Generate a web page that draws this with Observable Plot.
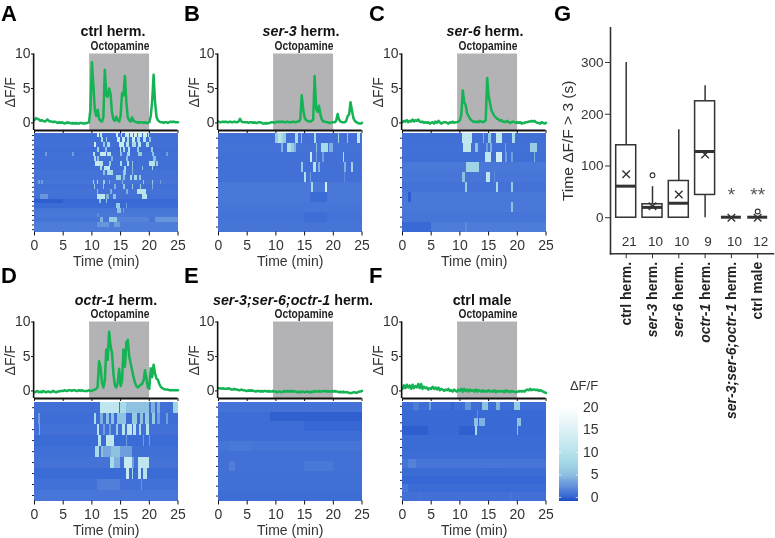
<!DOCTYPE html>
<html><head><meta charset="utf-8">
<script src="https://cdn.jsdelivr.net/npm/d3@7"></script>
<script src="https://cdn.jsdelivr.net/npm/@observablehq/plot@0.6"></script>
<style>
html,body{margin:0;padding:0;background:#fff}
#root{position:relative;width:775px;height:538px;overflow:hidden;font-family:"Liberation Sans",Arial,sans-serif;filter:blur(0.35px)}
#root svg{position:absolute;overflow:visible;background:none}
#root svg.heat g[aria-label="bar"]{filter:blur(.7px)}
.t{position:absolute;white-space:nowrap;color:#111;transform:translate(-50%,-50%)}
.title{font-weight:700;font-size:15.5px;transform:translate(-50%,-50%) scaleX(.92)}
.oct{font-weight:700;font-size:12px;color:#222;transform:translate(-50%,-50%) scaleX(.85)}
.letter{font-weight:700;font-size:22px;color:#000;transform:none}
</style></head><body><div id="root"></div>
<script>
// ---------- data ----------
const colLeft = [0, 184.3, 368.3];
const minutes = [0, 5, 10, 15, 20, 25];
const octBand = [9.6, 20.05];
const traceStep = 0.25;
const heatDomain = [-1, 0, 1, 2.5, 5, 7.5, 10, 15, 20];
const heatRange = ["#1d4cc6", "#3565d3", "#4a78d8", "#6795dc", "#8fc2e0", "#a4d8e6", "#b7e3ec", "#dff2f6", "#ffffff"];

const traceA = [.4,.7,.6,.5,.3,.4,.3,.2,.3,.5, .3,.2,.2,.1,.2,.1,0,.1,0,.1, 0,-.1,0,.1,0,0,-.1,0,-.1,0, -.1,-.1,0,0,-.1,-.1,0,0,.1,2,
 8.8,5.5,2,1,1.9,.6,.3,.2,.8,7.7, 4,3.8,5,4.2,1.5,.5,.3,.9,.4,.2, 1,4.3,4,6.8,3,.8,.4,.2,.8,.3, .2,.1,.1,0,.1,.1,0,.1,0,0,
 .1,1,3.2,7,3,.9,.4,.2,.1,.1, 0,.1,.1,0,.1,.2,.1,.2,.1,.1,.1];
const traceB = [.2,.1,.1,.2,.1,.2,.1,.1,.2,.1, .1,.2,.1,.1,.2,.6,.2,.1,.1,.1, .1,0,.1,.1,0,.1,0,0,.1,.1, 0,-.1,-.1,0,-.1,0,0,.1,.1,0,
 .1,.2,.1,.2,.1,.2,.1,.1,.2,.1, .1,.1,.2,.1,.1,.2,.2,.5,4,2, .8,.4,.3,.2,.2,.3,.5,6.8,2.2,1.6, 2.5,1.2,.5,.2,.2,.1,.1,0,0,.1,
 .1,.1,.3,1.3,.5,.2,.1,.1,.1,.3, 1,1.2,3,1.8,.7,.3,.1,0,-.1,-.1,0];
const traceC = [.1,.3,.2,.4,.1,.3,.2,.5,.2,.4, .3,.5,.2,.1,.2,0,.1,0,.1,-.1, 0,.1,-.1,.2,0,.3,.1,-.1,0,.1, .1,0,-.1,.1,0,.2,0,.1,.1,.2,
 .4,1.2,4.7,3,2.6,1.4,1,.6,.4,.2, .2,.1,.2,.1,.3,.2,.1,.2,.4,6.5, 4,2.8,1.8,1.4,1,.8,.6,.5,.3,.4, .2,.1,.2,.3,.1,0,.1,.2,.1,0,
 .1,0,.1,-.1,0,0,.1,.1,.2,.2, .3,.2,.3,.1,0,0,-.1,.1,0,-.1,0];
const traceD = [-.2,-.1,0,-.2,-.1,-.2,0,-.1,-.2,-.1, -.1,-.2,-.1,0,-.1,-.2,-.1,-.1,0,0, 0,.1,0,0,.1,.1,0,.1,.1,0, 0,.1,0,.1,0,0,0,0,.1,0,
 0,.1,.2,.3,.6,4.3,3.5,1.2,.5,1.5, 6,4.5,8.6,6.5,5.5,2.5,.8,.5,1.2,3.2, .7,1.5,6,3.5,7,7.4,5,4,3,2, 1.2,.7,.5,.7,.9,1,1.5,3,1.8,.5,
 .3,3.3,2,3.8,2.5,1.8,1.6,1,.6,.4, .3,.2,.2,.2,.1,.1,.1,.1,.1,.1,.1];
const traceE = [.4,.4,.3,.4,.3,.3,.3,.4,.3,.2, .2,.3,.2,.2,.1,.1,.2,.1,.1,0, 0,.1,0,.1,0,0,-.1,0,0,-.1, 0,-.1,0,0,-.1,0,-.1,-.1,0,-.1,
 -.1,-.2,-.1,-.1,-.2,-.1,0,-.1,0,-.1, 0,-.1,0,-.1,-.1,-.2,-.1,-.2,-.1,-.1, -.2,-.1,-.1,-.2,-.1,-.2,-.1,0,-.1,-.1, 0,-.1,-.1,0,0,-.1,0,-.1,-.1,0,
 -.1,0,-.1,-.1,-.2,-.1,-.2,-.1,-.2,-.2, -.2,-.3,-.3,-.3,-.2,-.2,-.3,-.2,-.1,-.1,0];
const traceF = [.3,.8,.4,.9,.5,.8,.3,.9,.4,.7, .5,1,.4,1,.3,.6,.4,.5,.2,.4, .3,.6,.3,.5,.2,.5,.1,.3,.2,0, .2,.1,.3,0,.1,-.1,.2,0,-.1,.2,
 0,.3,-.1,.3,0,.2,-.1,.2,0,.1, -.1,.2,-.1,.1,0,-.1,.1,-.1,0,-.1, .1,-.1,0,-.1,.1,-.2,0,-.1,0,-.1, 0,-.2,.1,-.1,0,-.2,0,-.1,-.1,-.2,
 -.1,-.1,0,-.1,0,-.1,.1,.2,.1,.3, .1,.2,.2,.1,.2,0,.1,0,-.1,-.2,-.3];

// heat rows: [baseline, [start, end, level], ...]
const heatA = [
 [.6,[11,11.4,13],[11.5,11.9,11],[14.2,14.7,13],[15.1,15.4,8],[15.8,16.6,12],[16.8,17.3,13],[17.5,18,13],[18.2,18.8,12],[19,19.6,13],[19.8,20,10]],
 [.5,[11.6,12,8],[12.5,12.7,6],[14.4,15,12],[15.4,15.9,12],[16.2,16.6,8],[17,17.6,12],[18,18.5,8],[19,19.5,10],[20,20.3,5]],
 [.6,[10.4,10.8,13],[12,12.3,6],[12.8,13.2,8],[14.8,15.6,12],[16,16.6,10],[17,17.8,8],[18.2,18.6,10],[19.5,20,8]],
 [.4,[11,11.3,7],[12.4,12.7,5],[14.9,15.2,10],[15.5,15.9,8],[16.4,16.8,10],[18,18.3,6],[20.4,20.8,6]],
 [.5,[2,2.2,3],[6.7,6.9,3],[10.2,10.7,10],[11.5,12.6,12],[12.8,13.5,10],[15,15.4,5],[16.2,16.8,8],[18.2,18.8,6],[20.5,20.9,5],[23,23.3,3]],
 [.6,[10.5,10.8,8],[11,11.4,5],[13.5,13.8,4],[16,16.3,5],[20.7,21.3,5]],
 [.5,[10.6,11.3,12],[11.4,12,10],[13,13.4,6],[15,15.4,8],[16.2,16.5,10],[17,17.3,5],[20,21,10],[21.2,21.6,6]],
 [.5,[11.5,11.8,8],[12.2,13.2,11],[15.7,16,8],[17,17.3,5],[18.8,19,5],[20.5,20.8,8]],
 [.7,[12,12.3,5],[12.8,13.8,8],[15.5,16,6],[17,17.3,4]],
 [.7,[14.2,15.2,7],[15.5,15.9,5],[16.7,17.1,8],[17.5,18,8],[18.3,18.7,6]],
 [.8,[.7,1,3],[1.3,1.5,3],[10.2,10.4,8],[11,11.2,8],[12,12.3,6],[13,13.2,4],[15.3,15.5,4],[19,19.2,6],[20.5,20.8,6],[22,22.2,3]],
 [.6,[10.5,10.7,6],[12,12.2,5],[14,14.3,4],[15.5,15.8,6],[17,17.3,6],[18.4,18.7,6],[20.5,20.7,4]],
 [.7,[10.9,11.2,5],[13.2,13.6,4],[16,16.4,4],[18,19.5,10]],
 [.6,[1,2.5,2.5],[11,12.3,11],[12.6,13,4],[13.8,14.3,5],[18.8,19.6,10]],
 [.2,[0,5,-.3],[11.4,11.7,5],[12.5,12.8,5]],
 [.3,[14.2,15,6],[16,16.2,3]],
 [.8,[14.5,15.1,5],[15.5,15.7,3]],
 [1,[11,11.3,2]],
 [.8,[11.5,12,4],[13,14.5,6],[14.5,20,1.5],[21,25,2.5]],
 [1.2,[11,13,2.5],[14,15,3]],
 [1.2]
];
const heatB = [
 [.6,[10,10.4,6],[10.5,10.9,10],[11,11.3,8],[11.4,11.8,6],[13.5,13.9,8],[14.5,14.7,5],[16.7,17,8],[20.9,21.1,8],[22.5,22.7,6],[24.3,24.8,11]],
 [.7,[11,11.4,4],[12,12.7,9],[12.8,13.2,6],[13.3,13.6,4],[17,17.2,5],[18,19.2,8],[19.3,20,4]],
 [.6,[16,16.4,12],[17,17.2,3],[18.2,18.4,3],[21.7,22,8]],
 [.6,[14.5,14.8,6],[16.6,17,10],[17.5,17.7,4],[22,22.3,4],[23.1,23.5,7]],
 [.6,[15,15.4,9],[16,16.2,3],[22,22.2,2]],
 [1,[16.2,16.5,8],[18.7,19,14]],
 [1,[16,19,.3]],
 [.9],
 [.7,[15,19,.4]],
 [.8]
];
const heatC = [
 [.5,[10.5,12.2,11],[14.1,14.3,4],[15,15.5,6],[16.4,17.4,11],[19.2,19.6,8],[21,21.1,2]],
 [.6,[10.7,12,11],[12.8,13.2,5],[14.7,15,3],[15.4,15.6,4],[18,18.2,3],[22.3,23.5,6]],
 [.5,[14.5,15.5,11],[16.3,17.5,13],[18,18.3,3],[19,19.3,3],[23,23.2,4]],
 [1,[11.2,13.4,7]],
 [.9,[10.5,10.9,5],[14.7,15.3,11],[16,16.2,2]],
 [.7,[11,11.3,6],[16.3,16.7,8],[19,19.4,6]],
 [1,[1,1.5,-.4]],
 [1,[19,19.4,5]],
 [.8],
 [1.2,[0,5,.2],[11,11.3,2]]
];
const heatD = [
 [.5,[11.5,14.8,11],[15,16,8],[16,20,5],[20.3,21,4],[21.4,22,4],[24.2,25,7]],
 [.4,[.7,1,3],[10.4,10.8,8],[11.5,12,4],[12.5,13,5],[13.5,14,5],[14.5,16,5],[17,18,6],[18.5,19,5],[19.3,20,6],[20.5,21,6],[21.5,22,3],[23,23.3,3]],
 [.6,[.8,1.1,4],[11,11.4,10],[12,12.4,3],[13,13.5,3],[14.2,14.6,6],[15.3,15.8,10],[16.2,17,11],[17.2,17.8,10],[18.3,18.7,8],[19.5,20,10]],
 [.3,[11.2,11.6,10],[12.5,14,11],[16,16.2,3],[19,19.2,3],[20,20.2,3]],
 [.5,[10.7,11.4,8],[11.6,12,5],[12,13.5,3.5],[13.5,15,5],[15,17,3]],
 [.7,[13.2,14,8],[14,15,4],[15.6,17,12],[17,17.4,3],[18.2,20,11]],
 [.3,[16,16.5,12],[17,17.3,7],[18.2,18.6,11],[19,19.6,10]],
 [.6,[11,15,1.3],[18.6,18.8,2.5]],
 [.9]
];
const heatE = [
 [.7],
 [.4,[9,25,-.2]],
 [.4,[15,25,.1]],
 [.4],
 [.8,[2,6,1]],
 [.6],
 [.6,[2,3,1.3],[15,20,1]],
 [.5],
 [.5],
 [.4]
];
const heatF = [
 [.4,[2,3,1.2],[4.7,5,3],[8.5,9,0],[11,12,2.5],[13.9,15,5],[16.3,17,4],[19.5,20.5,6]],
 [.2,[13,13.3,2]],
 [.2,[12.5,13.2,5],[13.5,14.5,4],[20,20.7,5]],
 [.2,[0,4.5,-.3],[10,12.8,-.2],[12.7,13,8],[20,20.2,5]],
 [.3],
 [.3],
 [.4],
 [.8,[1,2.5,1.5],[14,18,.9]],
 [.3],
 [.1],
 [.3,[0,1,1]],
 [.6,[3,3.1,1],[8,8.1,1],[19,19.1,1]]
];

// box plot G
const boxCats = ["ctrl herm.", "ser-3 herm.", "ser-6 herm.", "octr-1 herm.", "ser-3;ser-6;octr-1 herm.", "ctrl male"];
const boxItalic = ["", "ser-3", "ser-6", "octr-1", "ser-3;ser-6;octr-1", ""];
const boxLow = [0, 0, 0, 0, 0, 0];
const boxQ1 = [0, 0, 0, 44, 0, 0];
const boxMedian = [61, 20, 28, 128, 1, 1];
const boxQ3 = [140, 26, 71, 225, 1, 1];
const boxHigh = [300, 60, 170, 255, 1, 1];
const boxMean = [84, 22, 45, 122, 0, 0];
const boxN = [21, 10, 10, 9, 10, 12];
const outlierCat = ["ser-3 herm.", "ctrl male"];
const outlierVal = [82, 12];
const starCat = ["ser-3;ser-6;octr-1 herm.", "ctrl male"];
const starText = ["*", "**"];

const legendTicks = [0, 5, 10, 15, 20];
const legendWhite = [0, 5, 10];

// ---------- layout helpers ----------
const root = document.getElementById("root");
function place(el, left, top) { el.style.left = left + "px"; el.style.top = top + "px"; root.appendChild(el); return el; }
function html(cls, x, y, h) { const d = document.createElement("div"); d.className = "t " + cls; d.innerHTML = h; return place(d, x, y); }
const font = {fontFamily: '"Liberation Sans",Arial,sans-serif'};
const ink = "#333";

function trace(values, left, top) {
  const pts = values.map((v, i) => ({t: i * traceStep, v}));
  return place(Plot.plot({
    width: 188, height: 102, marginLeft: 34, marginRight: 10.5, marginTop: 23.5, marginBottom: 2,
    style: {...font, background: "none", color: ink},
    x: {domain: [0, 25]}, y: {domain: [-1.1, 10]},
    marks: [
      Plot.rect([octBand], {x1: d => d[0], x2: d => d[1], y1: -1.1, y2: 10, fill: "#b3b3b5"}),
      Plot.line(pts, {x: "t", y: "v", stroke: "#14b354", strokeWidth: 2.5, strokeLinejoin: "round"}),
      Plot.ruleY([-1.1], {stroke: "#111", strokeWidth: 2}),
      Plot.ruleX([-.15], {y1: -1.1, y2: 10, stroke: "#111", strokeWidth: 1.6}),
      Plot.axisX({ticks: minutes, tickSize: 3, tickFormat: () => "", label: null, stroke: "#111"}),
      Plot.axisY({ticks: [0, 5, 10], tickSize: 3, tickPadding: 1, fontSize: 14, label: "ΔF/F", labelArrow: "none", labelAnchor: "center", labelOffset: 29, stroke: "#111"})
    ]
  }), left, top);
}

function heat(rows, left, top) {
  const recs = [];
  rows.forEach((r, i) => {
    recs.push({row: i, a: 0, b: 25, v: r[0]});
    r.slice(1).forEach(e => recs.push({row: i, a: e[0], b: e[1], v: e[2]}));
  });
  const el = Plot.plot({
    width: 188, height: 136, marginLeft: 34, marginRight: 10.5, marginTop: .7, marginBottom: 36.5,
    style: {...font, background: "none", color: ink},
    x: {domain: [0, 25]},
    y: {type: "band", domain: rows.map((_, i) => i), padding: 0, round: false},
    color: {type: "linear", domain: heatDomain, range: heatRange, clamp: true},
    marks: [
      Plot.barX(recs, {x1: "a", x2: "b", y: "row", fill: "v", shapeRendering: "crispEdges"}),
      Plot.axisY({tickSize: 2, tickFormat: () => "", label: null, stroke: "#222"}),
      Plot.axisX({ticks: minutes, tickSize: 4, tickPadding: 4, fontSize: 14, label: "Time (min)", labelArrow: "none", labelAnchor: "center", labelOffset: 33.5, stroke: "#111"})
    ]
  });
  el.classList.add("heat");
  return place(el, left, top);
}

// ---------- panels ----------
const row1 = [traceA, traceB, traceC], row1h = [heatA, heatB, heatC];
const row2 = [traceD, traceE, traceF], row2h = [heatD, heatE, heatF];
colLeft.forEach((l, i) => {
  trace(row1[i], l, 30);
  heat(row1h[i], l, 132);
  trace(row2[i], l, 298.2);
  heat(row2h[i], l, 401);
  html("oct", l + 119.7, 45.7, "Octopamine");
  html("oct", l + 119.7, 314.3, "Octopamine");
});
html("title", 113, 30.7, "ctrl herm.");
html("title", 300.7, 30.7, "<i>ser-3</i> herm.");
html("title", 485, 30.7, "<i>ser-6</i> herm.");
html("title", 115.8, 300, "<i>octr-1</i> herm.");
html("title", 293, 300, "<i>ser-3;ser-6;octr-1</i> herm.");
html("title", 481.7, 300, "ctrl male");
[["A",1,1],["B",184,1],["C",369,1],["G",554,1],["D",1,263],["E",184,263],["F",369,263]]
  .forEach(([s,x,y]) => html("letter", x, y, s));

// ---------- box plot ----------
const boxes = boxCats.map((c, i) => ({c, lo: boxLow[i], q1: boxQ1[i], med: boxMedian[i], q3: boxQ3[i], hi: boxHigh[i], mean: boxMean[i], n: boxN[i]}));
const outliers = outlierCat.map((c, i) => ({c, v: outlierVal[i]}));
const stars = starCat.map((c, i) => ({c, s: starText[i]}));
const G = Plot.plot({
  width: 235, height: 405, marginLeft: 70, marginRight: 2, marginTop: 7.3, marginBottom: 171.7,
  style: {...font, background: "none", color: ink},
  x: {type: "band", domain: boxCats, padding: 0, round: false, range: [72.55, 230.35]},
  y: {domain: [-69.7, 367]},
  marks: [
    Plot.ruleX(boxes, {x: "c", y1: "lo", y2: "q1", stroke: ink, strokeWidth: 1.5}),
    Plot.ruleX(boxes, {x: "c", y1: "q3", y2: "hi", stroke: ink, strokeWidth: 1.5}),
    Plot.barY(boxes.slice(0, 4), {x: "c", y1: "q1", y2: "q3", fill: "none", stroke: ink, strokeWidth: 1.5, insetLeft: 3.15, insetRight: 3.15}),
    Plot.tickY(boxes, {x: "c", y: "med", stroke: ink, strokeWidth: 3, insetLeft: 3.15, insetRight: 3.15}),
    Plot.dot(boxes, {x: "c", y: "mean", symbol: "times", r: 3.5, stroke: ink, strokeWidth: 1.4}),
    Plot.dot(outliers, {x: "c", y: "v", r: 2.4, stroke: ink, strokeWidth: 1.1}),
    Plot.text(stars, {x: "c", y: 46, text: "s", fontSize: 19, fill: "#555", dy: 1}),
    Plot.text(boxes, {x: "c", y: -47, text: "n", fontSize: 13.5, fill: ink, dx: 3}),
    Plot.frame({anchor: "left", stroke: ink, strokeWidth: 1.6}),
    Plot.frame({anchor: "bottom", stroke: ink, strokeWidth: 1.6}),
    Plot.axisY({ticks: [0, 100, 200, 300], tickSize: 5, tickPadding: 2, fontSize: 13.5, stroke: ink, label: "Time ΔF/F > 3 (s)", labelArrow: "none", labelAnchor: "center", labelOffset: 49}),
    Plot.axisX({tickSize: 5, tickPadding: 3, tickRotate: -90, fontSize: 14, fontWeight: 700, fill: "#222", label: null, stroke: ink})
  ]
});
G.querySelectorAll('[aria-label="x-axis tick label"] text').forEach(el => {
  const full = el.textContent, i = boxCats.indexOf(full), it = boxItalic[i];
  if (!it) return;
  el.textContent = "";
  const a = document.createElementNS("http://www.w3.org/2000/svg", "tspan");
  a.setAttribute("font-style", "italic"); a.textContent = it; el.appendChild(a);
  const b = document.createElementNS("http://www.w3.org/2000/svg", "tspan");
  b.textContent = full.slice(it.length); el.appendChild(b);
});
const yLab = G.querySelector('[aria-label="y-axis label"]');
if (yLab) yLab.setAttribute("font-size", 15.5);
place(G, 540, 20);

// ---------- legend ----------
const legendSteps = d3.range(-.9, 20, .2);
place(Plot.plot({
  width: 50, height: 115, marginLeft: 48, marginRight: 0, marginTop: 17, marginBottom: 4,
  style: {...font, background: "none", color: ink},
  x: {domain: [0, 1], range: [9, 28], axis: null},
  y: {domain: [-.9, 20]},
  color: {type: "linear", domain: heatDomain, range: heatRange, clamp: true},
  marks: [
    Plot.rect(legendSteps, {x1: 0, x2: 1, y1: d => d, y2: d => d + .22, fill: d => d, shapeRendering: "crispEdges"}),
    Plot.ruleY(legendWhite, {x1: 0, x2: .12, stroke: "#fff", strokeOpacity: .7}),
    Plot.ruleY(legendWhite, {x1: .88, x2: 1, stroke: "#fff", strokeOpacity: .7}),
    Plot.axisY({ticks: legendTicks, tickSize: 0, tickPadding: 0, fontSize: 14, label: null})
  ]
}), 550, 390);
html("", 584, 385, "ΔF/F").style.cssText += ";font-size:13px;color:#333";
</script></body></html>
